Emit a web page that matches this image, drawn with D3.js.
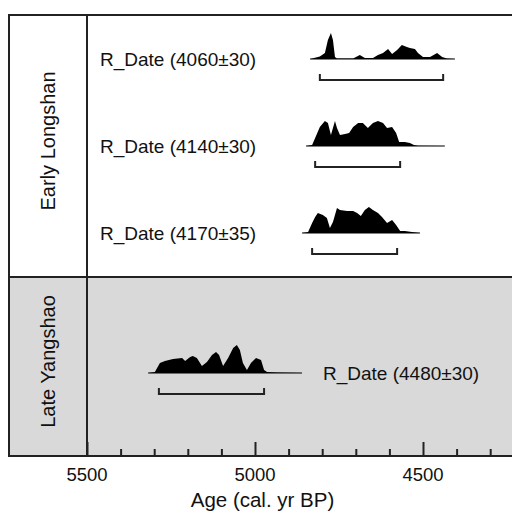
<!DOCTYPE html>
<html>
<head>
<meta charset="utf-8">
<script src="https://cdn.jsdelivr.net/npm/d3@7"></script>
<style>
	body { margin: 0; background: #fff; }
	text { font-family: "Liberation Sans", Arial, sans-serif; fill: #111; }
</style>
</head>
<body>
<div id="my_dataviz"></div>
<script>

// ---- data ----
var groups = ['Early Longshan', 'Late Yangshao'];
var dateLabels = ['R_Date (4060±30)', 'R_Date (4140±30)', 'R_Date (4170±35)', 'R_Date (4480±30)'];
var dateGroup = ['Early Longshan', 'Early Longshan', 'Early Longshan', 'Late Yangshao'];

// calibrated probability curves: [age cal BP, relative density]
var curve4060 = [[4836,0],[4807,2.5],[4792,6],[4783,19],[4774,26],[4768,19],[4762,2],[4756,0.5],[4708,0.5],
	[4688,4],[4673,1],[4649,1],[4634,4],[4619,6],[4604,10],[4592,5],[4577,9],[4563,14],[4548,12],[4539,11],
	[4524,10],[4515,6],[4500,2],[4479,2],[4458,6],[4443,2],[4429,0.5],[4405,0]];
var curve4140 = [[4848,0],[4830,1],[4821,8],[4807,19],[4792,25],[4783,23],[4774,11],[4768,18],[4762,25],
	[4756,18],[4747,11],[4732,12],[4720,13],[4708,19],[4693,23],[4679,23],[4664,18],[4649,23],[4634,25],
	[4619,23],[4607,18],[4592,19],[4580,13],[4571,4],[4554,4],[4539,3],[4527,1],[4515,0.3],[4435,0]];
var curve4170 = [[4860,0],[4842,1],[4830,10],[4821,16],[4813,20],[4798,18],[4786,15],[4777,5],[4768,11],
	[4756,25],[4747,23],[4726,22],[4708,22],[4696,20],[4685,17],[4673,23],[4661,26],[4649,23],[4634,20],
	[4622,16],[4607,10],[4592,13],[4580,8],[4568,2],[4554,2],[4533,1],[4509,0]];
var curve4480 = [[5318,0],[5298,1],[5283,10],[5268,12],[5244,14],[5217,15],[5208,12],[5193,16],[5185,17],
	[5173,15],[5158,7],[5143,11],[5128,18],[5116,21],[5107,18],[5095,7],[5080,15],[5065,25],[5054,28],
	[5045,23],[5036,10],[5024,3],[5012,10],[4997,15],[4982,13],[4973,3],[4964,1],[4935,0.5],[4860,0]];
var curves = [curve4060, curve4140, curve4170, curve4480];

// 95.4% ranges (older, younger)
var rangeStart = [4807, 4821, 4830, 5286];
var rangeEnd = [4440, 4568, 4577, 4973];

var majorTicks = [5500, 5000, 4500];
var minorTicks = [5400, 5300, 5200, 5100, 4900, 4800, 4700, 4600, 4400, 4300];
var axisTitle = 'Age (cal. yr BP)';

// ---- drawing ----
drawChart();

function drawChart() {

	var width = 512, height = 514;
	var left = 9, top = 15, divX = 87, bottom = 456, split = 277;

	var svg = d3.select('#my_dataviz')
		.append('svg')
		.attr('width', width)
		.attr('height', height);

	// age runs right to left
	var x = d3.scaleLinear()
		.domain([5500, 4500])
		.range([divX, 423]);

	// panels
	var panelY = d3.scaleOrdinal().domain(groups).range([[top, split], [split, bottom]]);

	svg.append('rect')
		.attr('x', left).attr('y', split)
		.attr('width', width - left).attr('height', bottom - split)
		.attr('fill', '#d9d9d9');

	// row baselines
	var earlyRows = d3.scalePoint()
		.domain(dateLabels.slice(0, 3))
		.range([59, 233]);
	function baseY(i) {
		return dateGroup[i] == 'Early Longshan' ? earlyRows(dateLabels[i]) : 373;
	}

	var peak = 30;
	var area = d3.area()
		.x(d => x(d[0]))
		.curve(d3.curveLinear);

	curves.forEach(function(c, i) {
		var b = baseY(i);
		var y = d3.scaleLinear().domain([0, peak]).range([b, b - peak]);
		area.y0(b).y1(d => y(d[1]));

		svg.append('path')
			.datum(c)
			.attr('d', area)
			.attr('fill', '#000');

		svg.append('line')
			.attr('x1', x(c[0][0])).attr('x2', x(c[c.length - 1][0]))
			.attr('y1', b).attr('y2', b)
			.attr('stroke', '#000').attr('stroke-width', 1.2);

		// range bracket
		var by = b + 21;
		svg.append('path')
			.attr('d', 'M' + x(rangeStart[i]) + ',' + (by - 6) + 'V' + by + 'H' + x(rangeEnd[i]) + 'V' + (by - 6))
			.attr('fill', 'none')
			.attr('stroke', '#222')
			.attr('stroke-width', 2);

		// label
		var lx = dateGroup[i] == 'Early Longshan' ? 100 : 323;
		svg.append('text')
			.attr('x', lx).attr('y', b)
			.attr('dy', '0.35em')
			.attr('font-size', '19px')
			.text(dateLabels[i]);
	});

	// frame lines
	var frame = svg.append('g').attr('stroke', '#222').attr('stroke-width', 2).attr('fill', 'none');
	frame.append('path').attr('d', 'M' + width + ',' + top + 'H' + left + 'V' + bottom + 'H' + width);
	frame.append('line').attr('x1', left).attr('x2', width).attr('y1', split).attr('y2', split);
	frame.append('line').attr('x1', divX).attr('x2', divX).attr('y1', top).attr('y2', bottom);

	// group labels
	groups.forEach(function(g) {
		var r = panelY(g);
		svg.append('text')
			.attr('transform', 'translate(48,' + ((r[0] + r[1]) / 2 - 5) + ') rotate(-90)')
			.attr('text-anchor', 'middle')
			.attr('dy', '0.35em')
			.attr('font-size', '20px')
			.text(g);
	});

	// x axis: ticks point up into the plot
	var axis = svg.append('g').attr('transform', 'translate(0,' + bottom + ')');
	axis.call(d3.axisTop(x).tickValues(majorTicks).tickSize(14).tickFormat(''))
	axis.append('g').call(d3.axisTop(x).tickValues(minorTicks).tickSize(7).tickFormat(''));
	axis.selectAll('.domain').remove();
	axis.selectAll('line').attr('stroke', '#222').attr('stroke-width', 2);

	axis.selectAll('.lbl')
		.data(majorTicks)
		.join('text')
		.attr('class', 'lbl')
		.attr('x', d => x(d))
		.attr('y', 19)
		.attr('text-anchor', 'middle')
		.attr('dy', '0.35em')
		.attr('font-size', '18.5px')
		.text(d => d);

	svg.append('text')
		.attr('x', (left + width) / 2 + 2)
		.attr('y', 500)
		.attr('dy', '0.35em')
		.attr('text-anchor', 'middle')
		.attr('font-size', '20.5px')
		.text(axisTitle);
}

</script>
</body>
</html>
